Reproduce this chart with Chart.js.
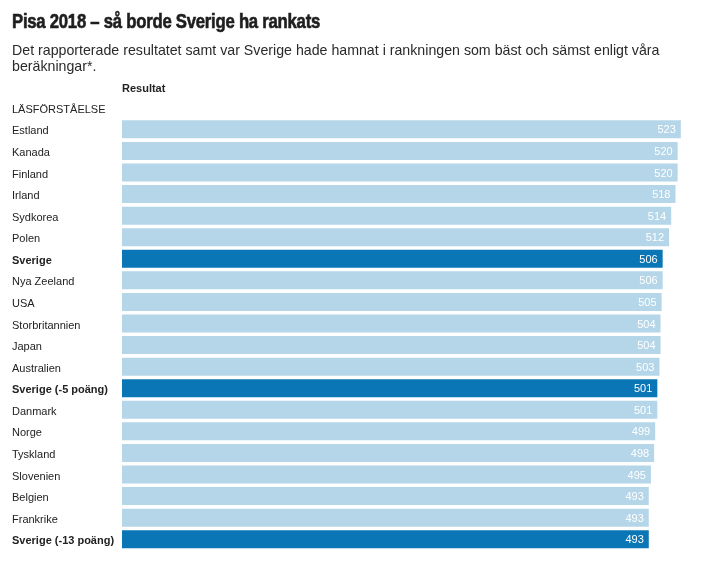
<!DOCTYPE html>
<html>
<head>
<meta charset="utf-8">
<script src="https://cdn.jsdelivr.net/npm/chart.js@4/dist/chart.umd.min.js"></script>
<style>
  html, body { margin: 0; padding: 0; background: #fff; }
  #wrap { position: relative; width: 703px; height: 563px; overflow: hidden; }
  #chart { position: absolute; left: 0; top: 0; }
  .title {
    position: absolute; left: 12px; top: 10px; margin: 0;
    font: bold 20px "Liberation Sans", Arial, sans-serif; line-height: 23px;
    letter-spacing: -0.3px; color: #1e1e1e; white-space: nowrap;
    -webkit-text-stroke: 0.6px #1e1e1e;
    transform-origin: 0 0;
  }
  .sub {
    position: absolute; left: 12px; top: 42px; margin: 0;
    font: 14.2px "Liberation Sans", Arial, sans-serif; line-height: 16px; color: #2a2a2a;
    white-space: nowrap;
  }
  .head {
    position: absolute; left: 122px; top: 82px;
    font: bold 11px "Liberation Sans", Arial, sans-serif; color: #222;
  }
</style>
</head>
<body>
<div id="wrap">
  <canvas id="chart" width="703" height="563"></canvas>
  <h1 class="title" id="title">Pisa 2018 – så borde Sverige ha rankats</h1>
  <p class="sub">Det rapporterade resultatet samt var Sverige hade hamnat i rankningen som bäst och sämst enligt våra<br>beräkningar*.</p>
  <div class="head">Resultat</div>
</div>
<script>
// Läsförståelse, Pisa 2018 (första raden är en rubrik utan stapel)
const countries = [
  'LÄSFÖRSTÅELSE', 'Estland', 'Kanada', 'Finland', 'Irland', 'Sydkorea', 'Polen',
  'Sverige', 'Nya Zeeland', 'USA', 'Storbritannien', 'Japan', 'Australien',
  'Sverige (-5 poäng)', 'Danmark', 'Norge', 'Tyskland', 'Slovenien', 'Belgien',
  'Frankrike', 'Sverige (-13 poäng)'
];
const scores = [
  null, 523, 520, 520, 518, 514, 512,
  506, 506, 505, 504, 504, 503,
  501, 501, 499, 498, 495, 493,
  493, 493
];

const LIGHT = '#b5d6e8';
const DARK = '#0b76b5';
const isSweden = (name) => name.startsWith('Sverige');

// rubriken är ett smalt typsnitt i originalet, pressa ihop den
const title = document.getElementById('title');
title.style.transform = 'scaleX(' + (308 / title.getBoundingClientRect().width) + ')';

const valueLabels = {
  id: 'valueLabels',
  afterDatasetsDraw(chart) {
    const ctx = chart.ctx;
    const meta = chart.getDatasetMeta(0);
    ctx.save();
    ctx.font = '11px "Liberation Sans", Arial, sans-serif';
    ctx.fillStyle = '#fff';
    ctx.textAlign = 'right';
    ctx.textBaseline = 'middle';
    meta.data.forEach((bar, i) => {
      if (scores[i] == null) return;
      ctx.fillText(String(scores[i]), bar.x - 5, bar.y + 1);
    });
    ctx.restore();
  }
};

new Chart(document.getElementById('chart').getContext('2d'), {
  type: 'bar',
  data: {
    labels: countries,
    datasets: [{
      data: scores,
      backgroundColor: countries.map(c => isSweden(c) ? DARK : LIGHT),
      borderWidth: 0,
      barPercentage: 0.835,
      categoryPercentage: 1
    }]
  },
  options: {
    indexAxis: 'y',
    responsive: false,
    animation: false,
    layout: { padding: { left: 12, right: 4, top: 97, bottom: 13 } },
    plugins: {
      legend: { display: false },
      tooltip: { enabled: false }
    },
    scales: {
      x: {
        display: false,
        min: 0,
        max: 540
      },
      y: {
        afterFit: (axis) => { axis.width = 110; },
        grid: { display: false, drawTicks: false },
        border: { display: false },
        ticks: {
          crossAlign: 'far',
          padding: 0,
          labelOffset: 2,
          color: '#222',
          font: (c) => ({
            family: '"Liberation Sans", Arial, sans-serif',
            size: 11,
            weight: isSweden(countries[c.index] || '') ? 'bold' : 'normal'
          })
        }
      }
    }
  },
  plugins: [valueLabels]
});
</script>
</body>
</html>
